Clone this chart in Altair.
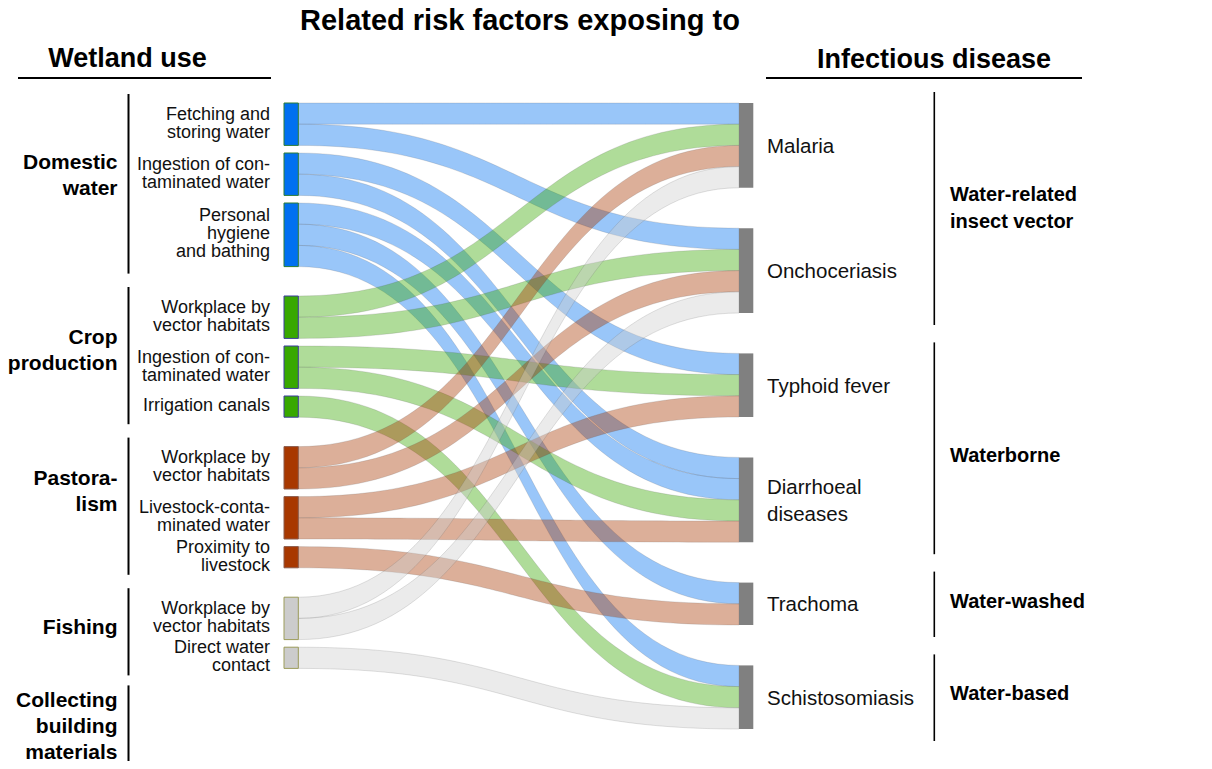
import altair as alt
import numpy as np
import pandas as pd

# ---------------- data ----------------
group_names = ["Domestic water", "Crop production", "Pastoralism", "Fishing",
               "Collecting building materials"]
group_labels = ["Domestic\nwater", "Crop\nproduction", "Pastora-\nlism", "Fishing",
                "Collecting\nbuilding\nmaterials"]

risk_labels = ["Fetching and\nstoring water", "Ingestion of con-\ntaminated water",
               "Personal\nhygiene\nand bathing",
               "Workplace by\nvector habitats", "Ingestion of con-\ntaminated water",
               "Irrigation canals",
               "Workplace by\nvector habitats", "Livestock-conta-\nminated water",
               "Proximity to\nlivestock",
               "Workplace by\nvector habitats", "Direct water\ncontact"]
risk_group = [0, 0, 0, 1, 1, 1, 2, 2, 2, 3, 3]

disease_labels = ["Malaria", "Onchoceriasis", "Typhoid fever", "Diarrhoeal\ndiseases",
                  "Trachoma", "Schistosomiasis"]
disease_classes = ["Water-related\ninsect vector", "Waterborne", "Water-washed", "Water-based"]
class_members = [[0, 1], [2, 3], [4], [5]]

link_source = [0, 0, 1, 1, 2, 2, 2, 3, 3, 4, 4, 5, 6, 6, 7, 7, 8, 9, 9, 10]
link_target = [0, 1, 2, 3, 3, 4, 5, 0, 1, 2, 3, 5, 0, 1, 2, 3, 4, 0, 1, 5]
link_value = [1] * 20

# ---------------- style / layout ----------------
node_colors = ["#0070F0", "#38A800", "#A83800", "#CCCCCC"]
node_borders = ["#2E7D32", "#3B3B9E", "#8A5A4A", "#9C9C5A"]
target_color = "#808080"
FONT = "Liberation Sans"

UNIT = 21.2
SRC_X0, SRC_X1 = 284.0, 298.3
TGT_X0, TGT_X1 = 739.0, 753.3
TOP = 103.0
SRC_GAP_IN, SRC_GAP_GROUP = 7.6, 29.4
TGT_GAP = 40.4
group_label_y = [174, 349, 490, 626, 725]
class_label_y = [207, 455, 601, 693]


def first_baseline(center, text, lh, fs):
    n = text.count("\n") + 1
    return center - (n - 1) / 2 * lh + 0.358 * fs


# ---------------- sankey layout ----------------
n_src, n_tgt = len(risk_labels), len(disease_labels)
src_val = [sum(v for s, v in zip(link_source, link_value) if s == i) for i in range(n_src)]
tgt_val = [sum(v for t, v in zip(link_target, link_value) if t == i) for i in range(n_tgt)]

src_y0, y = [], TOP
for i in range(n_src):
    if i > 0:
        y += SRC_GAP_IN if risk_group[i] == risk_group[i - 1] else SRC_GAP_GROUP
    src_y0.append(y)
    y += src_val[i] * UNIT
src_y1 = [a + v * UNIT for a, v in zip(src_y0, src_val)]

tgt_y0, y = [], TOP
for i in range(n_tgt):
    if i > 0:
        y += TGT_GAP
    tgt_y0.append(y)
    y += tgt_val[i] * UNIT
tgt_y1 = [a + v * UNIT for a, v in zip(tgt_y0, tgt_val)]

L = len(link_source)
ls_y, lt_y = [0.0] * L, [0.0] * L
for s in range(n_src):
    off = src_y0[s]
    for k in sorted([k for k in range(L) if link_source[k] == s], key=lambda k: link_target[k]):
        ls_y[k] = off
        off += link_value[k] * UNIT
for t in range(n_tgt):
    off = tgt_y0[t]
    for k in sorted([k for k in range(L) if link_target[k] == t], key=lambda k: link_source[k]):
        lt_y[k] = off
        off += link_value[k] * UNIT

ts = np.linspace(0, 1, 61)
xm = (SRC_X1 + TGT_X0) / 2
rows = []
for k in range(L):
    h = link_value[k] * UNIT
    for t in ts:
        a0 = (1 - t) ** 3
        a1 = 3 * (1 - t) ** 2 * t
        a2 = 3 * (1 - t) * t ** 2
        a3 = t ** 3
        x = a0 * SRC_X1 + (a1 + a2) * xm + a3 * TGT_X0
        yy = (a0 + a1) * ls_y[k] + (a2 + a3) * lt_y[k]
        rows.append({"link": f"L{k:02d}", "group": group_names[risk_group[link_source[k]]],
                     "x": x, "y": yy, "y2": yy + h})
links_df = pd.DataFrame(rows)

src_df = pd.DataFrame({
    "group": [group_names[g] for g in risk_group],
    "x": SRC_X0, "x2": SRC_X1, "y": src_y0, "y2": src_y1,
    "label": risk_labels,
    "ly": [first_baseline((a + b) / 2 - 2, lab, 18, 18)
           for a, b, lab in zip(src_y0, src_y1, risk_labels)],
    "lx": 270.0,
})
tgt_df = pd.DataFrame({
    "x": TGT_X0, "x2": TGT_X1, "y": tgt_y0, "y2": tgt_y1,
    "label": disease_labels,
    "ly": [first_baseline((a + b) / 2, lab, 27, 20.5)
           for a, b, lab in zip(tgt_y0, tgt_y1, disease_labels)],
    "lx": 767.0,
})

# brackets
lb = []
prev_bottom = None
for g in range(len(group_names)):
    idx = [i for i in range(n_src) if risk_group[i] == g]
    if idx:
        top = min(src_y0[i] for i in idx) - 9
        bot = max(src_y1[i] for i in idx) + 7
    else:
        top = prev_bottom + 10
        bot = top + 84
    prev_bottom = bot
    lb.append({"x": 128.5, "x2": 128.5, "y": top, "y2": bot,
               "label": group_labels[g], "lx": 117.5,
               "ly": first_baseline(group_label_y[g], group_labels[g], 26, 21)})
lb_df = pd.DataFrame(lb)

rb = []
for c, mem in enumerate(class_members):
    top = min(tgt_y0[i] for i in mem) - 11
    bot = max(tgt_y1[i] for i in mem) + 12
    rb.append({"x": 934.3, "x2": 934.3, "y": top, "y2": bot,
               "label": disease_classes[c], "lx": 950.0,
               "ly": first_baseline(class_label_y[c], disease_classes[c], 27, 20)})
rb_df = pd.DataFrame(rb)

heads_df = pd.DataFrame({"label": ["Wetland use", "Infectious disease"],
                         "lx": [127.5, 934.0],
                         "ly": [first_baseline(57.5, "x", 0, 27), first_baseline(58.0, "x", 0, 27)],
                         "x": [18.0, 766.0], "x2": [271.0, 1082.0],
                         "y": [78.0, 78.0], "y2": [78.0, 78.0]})
title_df = pd.DataFrame({"label": ["Related risk factors exposing to"], "lx": [520.0],
                         "ly": [first_baseline(20.0, "x", 0, 29)]})

# ---------------- encodings ----------------
XS = alt.Scale(domain=[8, 1204], nice=False, zero=False)
YS = alt.Scale(domain=[8, 761], nice=False, zero=False, reverse=True)


def X(f):
    return alt.X(f"{f}:Q", scale=XS, axis=None)


def Y(f):
    return alt.Y(f"{f}:Q", scale=YS, axis=None)


color_scale = alt.Scale(domain=group_names[:4], range=node_colors)

links = alt.Chart(links_df).mark_area(
    fillOpacity=0.4, stroke="#555555", strokeOpacity=0.22, strokeWidth=0.8,
    orient="vertical"
).encode(
    x=X("x"), y=Y("y"), y2=alt.Y2("y2:Q"),
    color=alt.Color("group:N", scale=color_scale, legend=None),
    detail="link:N",
)

src_nodes = alt.Chart(src_df).mark_rect(strokeWidth=1).encode(
    x=X("x"), x2=alt.X2("x2:Q"), y=Y("y"), y2=alt.Y2("y2:Q"),
    color=alt.Color("group:N", scale=color_scale, legend=None),
    stroke=alt.Stroke("group:N", scale=alt.Scale(domain=group_names[:4], range=node_borders),
                      legend=None),
)
tgt_nodes = alt.Chart(tgt_df).mark_rect(color=target_color).encode(
    x=X("x"), x2=alt.X2("x2:Q"), y=Y("y"), y2=alt.Y2("y2:Q"),
)

src_text = alt.Chart(src_df).mark_text(
    align="right", baseline="alphabetic", font=FONT, fontSize=18, lineHeight=18,
    lineBreak="\n", color="#111111"
).encode(x=X("lx"), y=Y("ly"), text="label:N")

tgt_text = alt.Chart(tgt_df).mark_text(
    align="left", baseline="alphabetic", font=FONT, fontSize=20.5, lineHeight=27,
    lineBreak="\n", color="#111111"
).encode(x=X("lx"), y=Y("ly"), text="label:N")

lb_rules = alt.Chart(lb_df).mark_rule(strokeWidth=2, color="#000000").encode(
    x=X("x"), x2=alt.X2("x2:Q"), y=Y("y"), y2=alt.Y2("y2:Q"))
lb_text = alt.Chart(lb_df).mark_text(
    align="right", baseline="alphabetic", font=FONT, fontSize=21, fontWeight="bold",
    lineHeight=26, lineBreak="\n", color="#000000"
).encode(x=X("lx"), y=Y("ly"), text="label:N")

rb_rules = alt.Chart(rb_df).mark_rule(strokeWidth=1.6, color="#000000").encode(
    x=X("x"), x2=alt.X2("x2:Q"), y=Y("y"), y2=alt.Y2("y2:Q"))
rb_text = alt.Chart(rb_df).mark_text(
    align="left", baseline="alphabetic", font=FONT, fontSize=20, fontWeight="bold",
    lineHeight=27, lineBreak="\n", color="#000000"
).encode(x=X("lx"), y=Y("ly"), text="label:N")

head_rules = alt.Chart(heads_df).mark_rule(strokeWidth=2, color="#000000").encode(
    x=X("x"), x2=alt.X2("x2:Q"), y=Y("y"), y2=alt.Y2("y2:Q"))
head_text = alt.Chart(heads_df).mark_text(
    align="center", baseline="alphabetic", font=FONT, fontSize=27, fontWeight="bold",
    color="#000000"
).encode(x=X("lx"), y=Y("ly"), text="label:N")

title_text = alt.Chart(title_df).mark_text(
    align="center", baseline="alphabetic", font=FONT, fontSize=29, fontWeight="bold",
    color="#000000"
).encode(x=X("lx"), y=Y("ly"), text="label:N")

chart = alt.layer(
    links, src_nodes, tgt_nodes, src_text, tgt_text,
    lb_rules, lb_text, rb_rules, rb_text, head_rules, head_text, title_text
).resolve_scale(color="shared").properties(
    width=1196, height=753, padding=0,
    autosize=alt.AutoSizeParams(type="none"),
    background="#ffffff",
).configure_view(stroke=None)

chart.save("out.html", embed_options={"renderer": "svg", "actions": False})
